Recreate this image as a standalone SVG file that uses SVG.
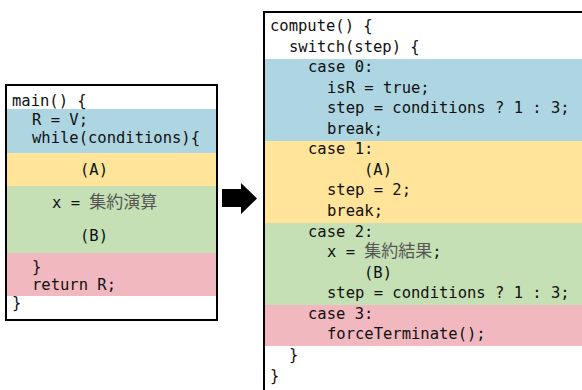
<svg xmlns="http://www.w3.org/2000/svg" width="582" height="390" viewBox="0 0 582 390">
<style>
.code{font-family:"DejaVu Sans Mono","Liberation Mono",monospace;font-size:15.5px;fill:#111}
.cjk{font-family:"Noto Sans CJK JP","Noto Sans CJK SC",sans-serif;font-size:17px;fill:#555}
.box{fill:none;stroke:#000;stroke-width:2}
.blue{fill:#add5e2}.yellow{fill:#ffe499}.green{fill:#c5e0b4}.pink{fill:#f1b8c0}
</style>
<rect width="582" height="390" fill="#fff"/>
<g id="main-box">
<rect x="6" y="85" width="211" height="235" fill="#fff"/>
<rect class="blue" x="7" y="109" width="209" height="44"/>
<rect class="yellow" x="7" y="153" width="209" height="33"/>
<rect class="green" x="7" y="186" width="209" height="67"/>
<rect class="pink" x="7" y="253" width="209" height="43"/>
<rect class="box" x="6" y="85" width="211" height="235"/>
<text class="code" x="12" y="106">main() {</text>
<text class="code" x="32" y="125">R = V;</text>
<text class="code" x="32" y="143">while(conditions){</text>
<text class="code" x="80" y="175">(A)</text>
<text class="code" x="52" y="208">x = <tspan class="cjk">集約演算</tspan></text>
<text class="code" x="80" y="241">(B)</text>
<text class="code" x="32" y="272">}</text>
<text class="code" x="32" y="290">return R;</text>
<text class="code" x="12" y="308">}</text>
</g>
<g id="compute-box">
<rect x="264" y="12" width="330" height="390" fill="#fff"/>
<rect class="blue" x="265" y="59" width="320" height="82"/>
<rect class="yellow" x="265" y="141" width="320" height="82"/>
<rect class="green" x="265" y="223" width="320" height="82"/>
<rect class="pink" x="265" y="305" width="320" height="41"/>
<rect class="box" x="264" y="12" width="330" height="390"/>
<text class="code" x="270" y="31">compute() {</text>
<text class="code" x="289" y="52">switch(step) {</text>
<text class="code" x="308" y="72">case 0:</text>
<text class="code" x="327" y="93">isR = true;</text>
<text class="code" x="327" y="113">step = conditions ? 1 : 3;</text>
<text class="code" x="327" y="134">break;</text>
<text class="code" x="308" y="154">case 1:</text>
<text class="code" x="364" y="175">(A)</text>
<text class="code" x="327" y="195">step = 2;</text>
<text class="code" x="327" y="216">break;</text>
<text class="code" x="308" y="237">case 2:</text>
<text class="code" x="327" y="257">x = <tspan class="cjk">集約結果</tspan>;</text>
<text class="code" x="364" y="278">(B)</text>
<text class="code" x="327" y="298">step = conditions ? 1 : 3;</text>
<text class="code" x="308" y="319">case 3:</text>
<text class="code" x="327" y="339">forceTerminate();</text>
<text class="code" x="289" y="360">}</text>
<text class="code" x="270" y="381">}</text>
</g>
<g id="connectors">
<polygon points="222,189 241,189 241,183 257,198.5 241,214 241,207 222,207" fill="#000"/>
</g>
</svg>
